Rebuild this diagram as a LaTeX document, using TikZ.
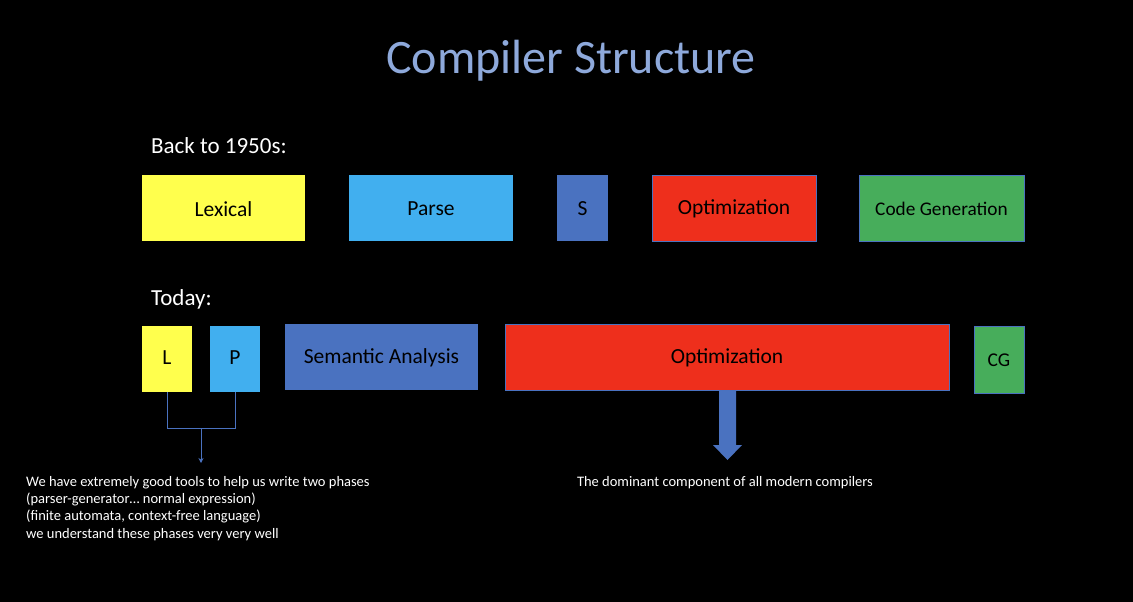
\documentclass[tikz,border=0pt]{standalone}
\usepackage{fontspec}
\setmainfont{Carlito}
\usetikzlibrary{positioning,arrows.meta}
\definecolor{bgc}{HTML}{000000}
\definecolor{titlec}{HTML}{8EA9DB}
\definecolor{yel}{HTML}{FFFF4D}
\definecolor{lblue}{HTML}{41AFEF}
\definecolor{mblue}{HTML}{4A72C0}
\definecolor{redc}{HTML}{EE2F1C}
\definecolor{grn}{HTML}{47AD5B}
\begin{document}
\begin{tikzpicture}[x=1pt,y=-1pt,
  phase/.style={inner sep=0pt,font=\fontsize{21.5}{24}\selectfont,text=black},
  note/.style={text=white,font=\fontsize{14.5}{17.3}\selectfont,inner sep=0pt},
  head/.style={text=white,font=\fontsize{23}{26}\selectfont,inner sep=0pt,anchor=west}]
\fill[bgc] (0,0) rectangle (1133,602);
\useasboundingbox (0,0) rectangle (1133,602);
\node[text=titlec,font=\fontsize{48}{54}\selectfont,inner sep=0pt] (title) at (571,61) {Compiler Structure};
\node[head] (back) at (151,146) {Back to 1950s:};
\node[head] (today) at (151,299) {Today:};
% row 1
\fill[yel] (142,175) rectangle (305,241);
\node[phase] (lex) at (223.5,209) {Lexical};
\fill[lblue] (349,175) rectangle (513,241);
\node[phase] (parse) at (431,209) {Parse};
\fill[mblue] (557,175) rectangle (608,241);
\node[phase] (s) at (582.5,209) {S};
\filldraw[fill=redc,draw=mblue] (652,175) rectangle (816,241);
\node[phase] (opt1) at (734,209) {Optimization};
\filldraw[fill=grn,draw=mblue] (859,175) rectangle (1024,241);
\node[phase,font=\fontsize{19.3}{22}\selectfont] (cg1) at (941.5,209) {Code Generation};
% row 2
\fill[yel] (142,326) rectangle (192,392);
\node[phase] (l) at (167,358) {L};
\fill[lblue] (210,326) rectangle (260,392);
\node[phase] (p) at (235,358) {P};
\fill[mblue] (285,324) rectangle (478,390);
\node[phase] (sem) at (381.5,358) {Semantic Analysis};
\filldraw[fill=redc,draw=mblue] (505,324) rectangle (949,390);
\node[phase] (opt2) at (727,358) {Optimization};
\filldraw[fill=grn,draw=mblue] (974,326) rectangle (1024,393);
\node[phase,font=\fontsize{19.5}{22}\selectfont] (cg2) at (999,360) {CG};
\coordinate (lb) at (167,392);
\coordinate (pb) at (235,392);
\coordinate (jn) at (201,428);
\coordinate (arrEnd) at (201,463);
\draw[mblue,line width=0.9pt] (lb) -- (167,428) -- (235,428) -- (pb);
\draw[mblue,line width=0.9pt,-{Stealth[length=5pt,width=5pt]}] (jn) -- (arrEnd);
% big arrow
\fill[mblue] (719,390) -- (736,390) -- (736,445) -- (742,445) -- (727.5,460) -- (713,445) -- (719,445) -- cycle;
% notes
\node[note,anchor=north west,align=left] (leftnote) at (26,476) {We have extremely good tools to help us write two phases\\(parser-generator\ldots{} normal expression)\\(finite automata, context-free language)\\we understand these phases very very well};
\node[note] (rightnote) at (725,483) {The dominant component of all modern compilers};
\end{tikzpicture}
\end{document}
